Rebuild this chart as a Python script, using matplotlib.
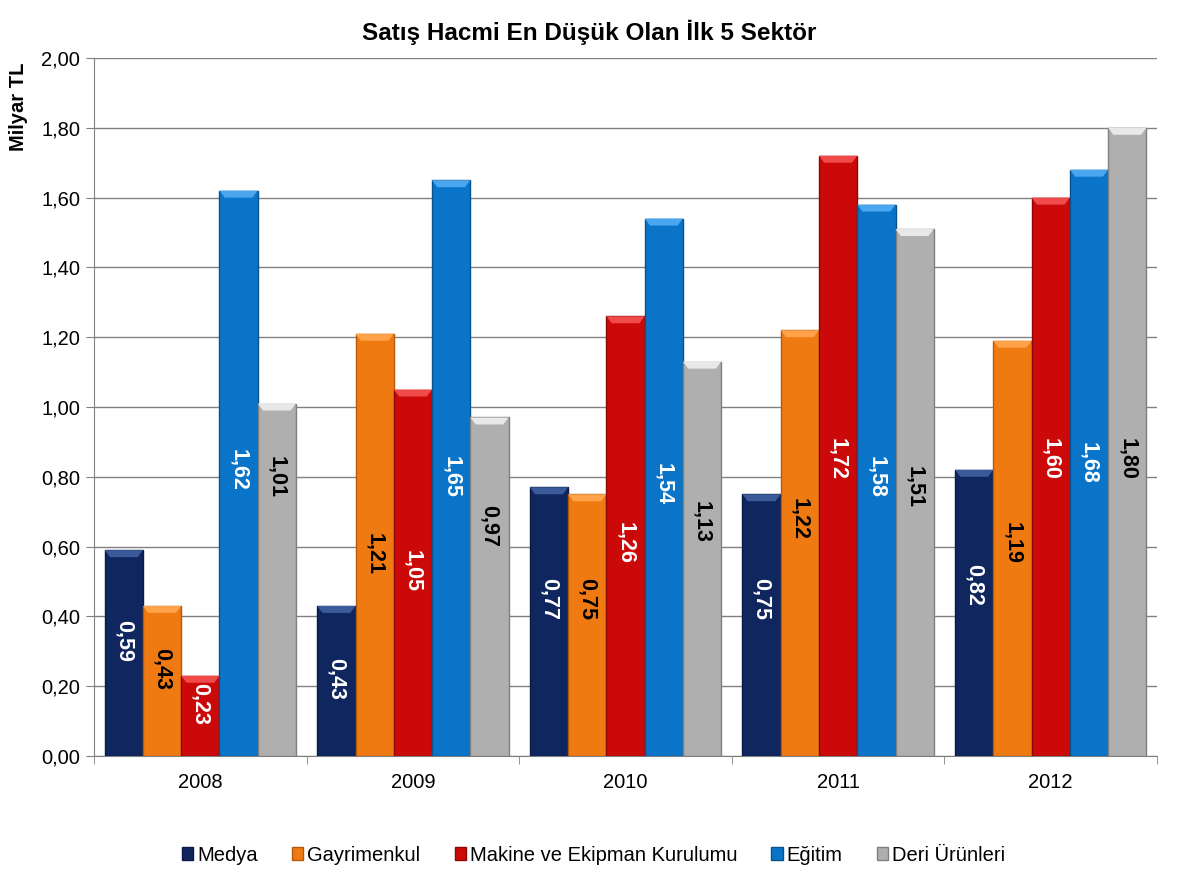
import numpy as np
from matplotlib import pyplot as plt
from matplotlib.patches import Polygon

plt.rcParams['font.family'] = ['Liberation Sans', 'DejaVu Sans']

years = ['2008', '2009', '2010', '2011', '2012']
sectors = ['Medya', 'Gayrimenkul', 'Makine ve Ekipman Kurulumu', 'Eğitim', 'Deri Ürünleri']

medya = [0.59, 0.43, 0.77, 0.75, 0.82]
gayrimenkul = [0.43, 1.21, 0.75, 1.22, 1.19]
makine = [0.23, 1.05, 1.26, 1.72, 1.60]
egitim = [1.62, 1.65, 1.54, 1.58, 1.68]
deri = [1.01, 0.97, 1.13, 1.51, 1.80]

# where the value labels sit (data units)
label_y = [
    [0.33, 0.22, 0.45, 0.45, 0.49],
    [0.25, 0.58, 0.45, 0.68, 0.61],
    [0.15, 0.53, 0.61, 0.85, 0.85],
    [0.82, 0.80, 0.78, 0.80, 0.84],
    [0.80, 0.66, 0.67, 0.77, 0.85],
]

series = [medya, gayrimenkul, makine, egitim, deri]
colors = ['#10265F', '#F07A12', '#CC0909', '#0A75C8', '#AFAFAF']
edges = ['#0A1A45', '#B35A0A', '#8E0505', '#07528C', '#808080']
tops = ['#3A5A9A', '#FFA24A', '#F04A4A', '#4AA6EE', '#E8E8E8']
text_cols = ['white', 'black', 'white', 'white', 'black']

fig = plt.figure(figsize=(11.81, 8.86), dpi=100)
ax = fig.add_axes([0.0796, 0.1467, 0.9001, 0.7878])

x = np.arange(len(years))
w = 0.18
for i, vals in enumerate(series):
    xs = x + (i - 2) * w
    ax.bar(xs, vals, w, color=colors[i], edgecolor=edges[i], linewidth=1,
           label=sectors[i], zorder=3)
    for xi, v, ly in zip(xs, vals, label_y[i]):
        # thin bevel on top of each bar
        bev = 0.02
        ax.add_patch(Polygon([[xi - w / 2, v], [xi + w / 2, v],
                              [xi + w / 2 - 0.025, v - bev], [xi - w / 2 + 0.025, v - bev]],
                             closed=True, facecolor=tops[i], edgecolor='none', zorder=4))
        ax.text(xi, ly, f'{v:.2f}'.replace('.', ','), rotation=270,
                ha='center', va='center', color=text_cols[i],
                fontsize=15.5, fontweight='bold', zorder=5)

ax.set_xlim(-0.5, 4.5)
ax.set_ylim(0, 2.0)
yt = np.arange(0, 2.01, 0.2)
ax.set_yticks(yt)
ax.set_yticklabels([f'{v:.2f}'.replace('.', ',') for v in yt], fontsize=14.5)
ax.set_xticks(x)
ax.set_xticklabels(years, fontsize=14.5)
ax.set_xticks(np.arange(-0.5, 4.6, 1), minor=True)
ax.tick_params(axis='x', which='major', length=0, pad=12)
ax.tick_params(axis='x', which='minor', length=6, color='#808080')
ax.tick_params(axis='y', length=6, color='#808080', pad=4)
ax.yaxis.grid(True, color='#808080', linewidth=1, zorder=0)
for s in ['top', 'right']:
    ax.spines[s].set_visible(False)
for s in ['left', 'bottom']:
    ax.spines[s].set_color('#808080')

fig.text(0.499, 0.964, 'Satış Hacmi En Düşük Olan İlk 5 Sektör', ha='center', va='center',
         fontsize=17.5, fontweight='bold')
fig.text(0.016, 0.879, 'Milyar TL', rotation=90, ha='center', va='center',
         fontsize=14.5, fontweight='bold')

ax.legend(loc='center', bbox_to_anchor=(0.47, -0.142), ncol=5, frameon=False,
          fontsize=14.5, handlelength=0.55, handleheight=0.55, handletextpad=0.2,
          columnspacing=1.7)

fig.savefig('out.png', dpi=100)
